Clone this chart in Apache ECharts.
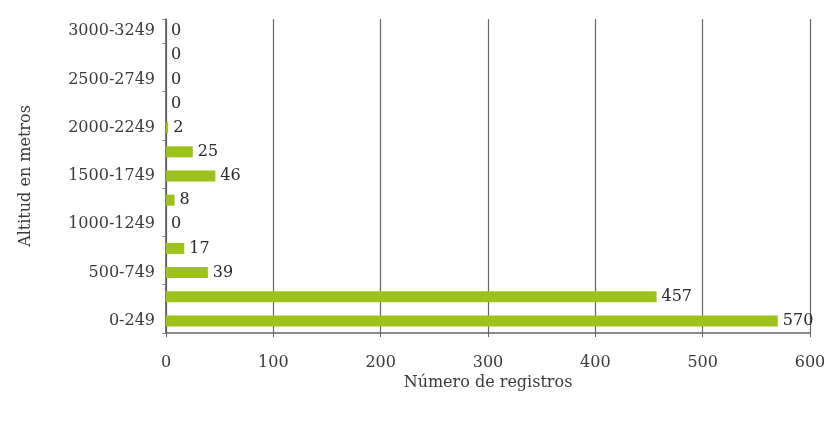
<!DOCTYPE html>
<html lang="es">
<head>
    <meta charset="UTF-8">
    <title>Altitud</title>
    <style>
        html,body{
            margin: 0;
            height: 100%;
            background: #fff;
        }
        #main{
            width: 824px;
            height: 422px;
        }
    </style>
</head>
<body>
<script src="https://cdn.jsdelivr.net/npm/echarts@6/dist/echarts.min.js"></script>
<div id="main"></div>
<script>
    // rangos de altitud (de abajo hacia arriba)
    var altitudes = ['0-249', '250-499', '500-749', '750-999', '1000-1249', '1250-1499',
        '1500-1749', '1750-1999', '2000-2249', '2250-2499', '2500-2749', '2750-2999', '3000-3249'];
    var registros = [570, 457, 39, 17, 0, 8, 46, 25, 2, 0, 0, 0, 0];
    var xTicks = [0, 100, 200, 300, 400, 500, 600];

    var serif = '"DejaVu Serif", "Liberation Serif", serif';

    var chart = echarts.init(document.getElementById('main'));
    var option = {
        backgroundColor: '#fff',
        animation: false,
        grid: {
            left: 166,
            right: 14,
            top: 19,
            bottom: 89,
            outerBoundsMode: 'none'
        },
        xAxis: {
            type: 'value',
            min: xTicks[0],
            max: xTicks[xTicks.length - 1],
            interval: 100,
            name: 'Número de registros',
            nameLocation: 'middle',
            nameGap: 42,
            nameMoveOverlap: false,
            nameTextStyle: {
                fontFamily: serif,
                fontSize: 16,
                color: '#3a3a3a'
            },
            axisLine: {
                show: true,
                lineStyle: {color: '#666', width: 1.5}
            },
            axisTick: {
                show: true,
                length: 4,
                lineStyle: {color: '#666'}
            },
            axisLabel: {
                fontFamily: serif,
                fontSize: 16,
                color: '#3a3a3a',
                margin: 14,
                padding: [8, 0, 0, 0]
            },
            splitLine: {
                show: true,
                lineStyle: {color: '#666', width: 1.2}
            }
        },
        yAxis: {
            type: 'category',
            data: altitudes,
            name: 'Altitud en metros',
            nameLocation: 'middle',
            nameGap: 132,
            nameRotate: 90,
            nameTextStyle: {
                fontFamily: serif,
                fontSize: 16,
                color: '#3a3a3a'
            },
            axisLine: {
                show: true,
                lineStyle: {color: '#555', width: 1.5}
            },
            axisTick: {
                show: true,
                length: 4,
                lineStyle: {color: '#888'}
            },
            axisLabel: {
                interval: 1,
                fontFamily: serif,
                fontSize: 16,
                color: '#3a3a3a',
                margin: 11
            }
        },
        series: [{
            type: 'bar',
            data: registros,
            barWidth: 11,
            itemStyle: {
                color: '#9cc21b'
            },
            label: {
                show: true,
                position: 'right',
                distance: 5,
                fontFamily: serif,
                fontSize: 16,
                color: '#2a2a2a'
            }
        }]
    };
    chart.setOption(option);
</script>
</body>
</html>
